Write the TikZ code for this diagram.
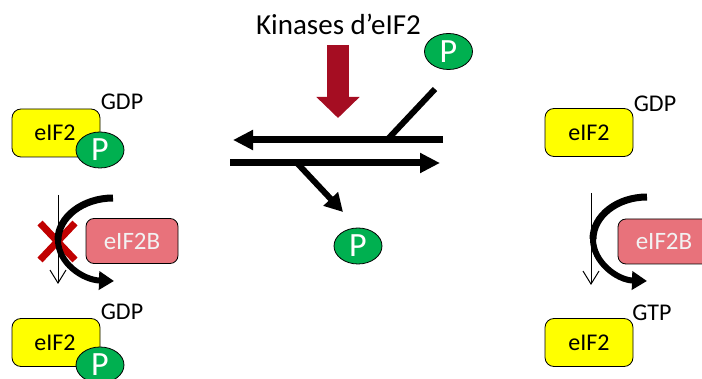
\documentclass[tikz,border=0pt]{standalone}
\usepackage{fontspec}
\setmainfont{Carlito}
\usetikzlibrary{arrows.meta,shapes.geometric}
\definecolor{eyellow}{HTML}{FFFF00}
\definecolor{pgreen}{HTML}{00B050}
\definecolor{bpink}{HTML}{E8727B}
\definecolor{xred}{HTML}{C00000}
\definecolor{kred}{HTML}{A50D22}
\begin{document}
\begin{tikzpicture}[x=1pt,y=-1pt,
  eifbox/.style={draw=black, line width=0.8pt, fill=eyellow, rounded corners=9pt,
    minimum width=88pt, minimum height=48pt, inner sep=0pt,
    font=\fontsize{24}{28}\selectfont},
  bbox/.style={draw=black, line width=0.8pt, fill=bpink, rounded corners=8pt,
    minimum width=92pt, minimum height=45pt, inner sep=0pt, text=white!95!black,
    font=\fontsize{25}{29}\selectfont},
  pball/.style={ellipse, draw=black, line width=0.8pt, fill=pgreen,
    minimum width=48pt, minimum height=36pt, inner sep=0pt, text=white,
    font=\fontsize{34}{36}\selectfont},
  nuc/.style={inner sep=0pt, font=\fontsize{24}{28}\selectfont},
  bigarrow/.style={line width=7pt, -{Triangle[length=20pt,width=19pt]}},
  branch/.style={line width=6pt},
  bendtop/.style={line width=7pt},
  bendarrow/.style={line width=6pt, -{Triangle[length=15pt,width=18pt]}},
  thinarrow/.style={line width=1pt, -{Straight Barb[length=13pt,width=16pt]}},
  cross/.style={line width=7pt, xred}
]
\useasboundingbox (0,0) rectangle (702,379);

% title and kinase arrow
\node[nuc, font=\fontsize{29}{32}\selectfont] (kin) at (338.5,24) {Kinases d’eIF2};
\coordinate (kA) at (338,45);
\coordinate (kB) at (338,118);
\draw[kred, line width=22pt, -{Triangle[length=21pt,width=42pt]}] (kA) -- (kB);

% equilibrium arrows
\coordinate (uR) at (443,140);
\coordinate (uL) at (233,140);
\coordinate (lL) at (230,163);
\coordinate (lR) at (440,163);
\draw[bigarrow] (uR) -- (uL);
\draw[bigarrow] (lL) -- (lR);

% phosphates
\node[pball] (ptop) at (448.5,51.5) {P};
\node[pball] (pbot) at (358,246) {P};
\coordinate (bu1) at (387,140);
\coordinate (bu2) at (435,89);
\draw[branch] (bu1) -- (bu2);
\coordinate (bl1) at (297,163);
\coordinate (bl2) at (343,212);
\draw[branch, -{Triangle[length=18pt,width=19pt]}] (bl1) -- (bl2);

% ---------- left column ----------
\node[eifbox] (L1) at (56,133) {eIF2\hspace*{2pt}};
\node[pball] (LP1) at (100,150) {P};
\node[nuc] (Lg1) at (122,102) {GDP};

\draw[cross] (40,223) -- (75,260);
\draw[cross] (75,223) -- (40,260);
\coordinate (Lt1) at (58,195);
\coordinate (Lt2) at (58,284);
\draw[thinarrow] (Lt1) -- (Lt2);
\coordinate (Lc1) at (113,198);
\coordinate (Lc2) at (58,240);
\coordinate (Lc3) at (114,281);
\draw[bendtop] (Lc1) .. controls (83,198) and (58,217) .. (Lc2);
\draw[bendarrow] (Lc2) .. controls (58,263) and (83,280) .. (Lc3);
\node[bbox] (LB) at (132,241) {eIF2B};

\node[eifbox] (L2) at (56,342.5) {eIF2\hspace*{2pt}};
\node[pball] (LP2) at (100,365) {P};
\node[nuc] (Lg2) at (122,312) {GDP};

% ---------- right column ----------
\node[eifbox] (R1) at (589,132.5) {eIF2};
\node[nuc] (Rg1) at (655,104) {GDP};

\coordinate (Rt1) at (591,193);
\coordinate (Rt2) at (591,285);
\draw[thinarrow] (Rt1) -- (Rt2);
\coordinate (Rc1) at (647,197);
\coordinate (Rc2) at (593,239);
\coordinate (Rc3) at (647,281);
\draw[bendtop] (Rc1) .. controls (617,197) and (593,216) .. (Rc2);
\draw[bendarrow] (Rc2) .. controls (593,262) and (617,280) .. (Rc3);
\node[bbox] (RB) at (664,241.5) {eIF2B};

\node[nuc] (Rg2) at (652,313) {GTP};
\node[eifbox] (R2) at (589,342.5) {eIF2};
\end{tikzpicture}
\end{document}
